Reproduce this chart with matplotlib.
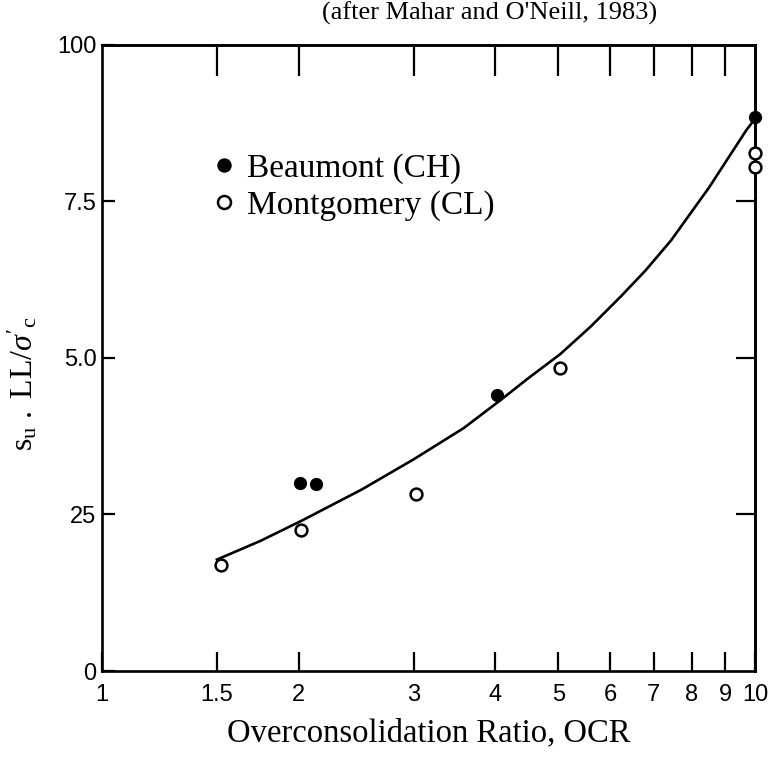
import matplotlib
matplotlib.use('Agg')
import matplotlib.pyplot as plt
from matplotlib.ticker import NullLocator

# OCR values and normalised strength, two clay formations
ocr_beaumont = [2.01, 2.13, 4.02, 10.0]
su_beaumont = [3.01, 2.99, 4.41, 8.85]

ocr_montgomery = [1.52, 2.02, 3.03, 5.03, 10.0, 10.0]
su_montgomery = [1.69, 2.25, 2.83, 4.84, 8.28, 8.05]

# fitted trend line, read along its length
ocr_fit = [1.5, 1.75, 2.03, 2.5, 3.0, 3.58, 4.08, 4.5, 5.03, 5.6, 6.24, 6.8,
           7.44, 8.5, 9.7, 10.0]
su_fit = [1.78, 2.08, 2.41, 2.9, 3.38, 3.88, 4.33, 4.68, 5.06, 5.5, 5.99, 6.4,
          6.88, 7.72, 8.64, 8.82]

x_ticks = [1, 1.5, 2, 3, 4, 5, 6, 7, 8, 9, 10]
x_ticklabels = ['1', '1.5', '2', '3', '4', '5', '6', '7', '8', '9', '10']
y_ticks = [0, 2.5, 5.0, 7.5, 10.0]
y_ticklabels = ['0', '25', '5.0', '7.5', '100']

serif = ['Liberation Serif', 'DejaVu Serif']
narrow = ['Liberation Sans Narrow', 'Liberation Sans', 'DejaVu Sans']

plt.rcParams['mathtext.fontset'] = 'custom'
plt.rcParams['mathtext.rm'] = 'Liberation Serif'
plt.rcParams['mathtext.it'] = 'Liberation Serif:italic'

fig = plt.figure(figsize=(7.79, 7.57), dpi=100)
ax = fig.add_axes([0.1309, 0.1136, 0.8383, 0.827])

ax.plot(ocr_fit, su_fit, '-', color='black', lw=1.9, zorder=2)
ax.plot(ocr_beaumont, su_beaumont, 'o', color='black', ms=8.5,
        clip_on=False, zorder=3, label='Beaumont (CH)')
ax.plot(ocr_montgomery, su_montgomery, 'o', mfc='white', mec='black', mew=1.8,
        ms=8.5, clip_on=False, zorder=3, label='Montgomery (CL)')

ax.set_xscale('log')
ax.set_xlim(1, 10)
ax.set_ylim(0, 10)
ax.xaxis.set_minor_locator(NullLocator())
ax.set_xticks(x_ticks)
ax.set_xticklabels(x_ticklabels, family=narrow, fontsize=17)
ax.set_yticks(y_ticks)
ax.set_yticklabels(y_ticklabels, family=narrow, fontsize=17)
ax.tick_params(axis='x', direction='in', length=14, width=1.6, pad=9)
ax.tick_params(axis='y', direction='in', length=9, width=1.6, pad=4)

for s in ax.spines.values():
    s.set_linewidth(1.9)

# inward ticks on the top and right frame
top = ax.secondary_xaxis('top')
top.xaxis.set_minor_locator(NullLocator())
top.set_xticks(x_ticks[1:-1])
top.set_xticklabels([])
top.tick_params(direction='in', length=22, width=1.6)
top.spines['top'].set_linewidth(1.9)

right = ax.secondary_yaxis('right')
right.set_yticks(y_ticks[1:-1])
right.set_yticklabels([])
right.tick_params(direction='in', length=14, width=1.6)
right.spines['right'].set_linewidth(1.9)

ax.set_xlabel('Overconsolidation Ratio, OCR', family=serif, fontsize=23.5, labelpad=9)
ax.set_ylabel(r"$\mathrm{s_u\ .\ LL/}\sigma'_{\mathrm{c}}$", fontsize=23, labelpad=8)
ax.yaxis.set_label_coords(-0.095, 0.46)

leg = ax.legend(loc='upper left', bbox_to_anchor=(214 / 779, 1 - 153 / 757),
                bbox_transform=fig.transFigure, frameon=False,
                prop={'family': serif, 'size': 24}, handlelength=0.6,
                handletextpad=0.4, labelspacing=0.18, borderpad=0,
                borderaxespad=0, markerscale=1.1)

fig.text(657 / 779, 1 - 20 / 757, "(after Mahar and O'Neill, 1983)",
         family=serif, fontsize=19, ha='right', va='baseline')

fig.savefig('out.png', dpi=100)
